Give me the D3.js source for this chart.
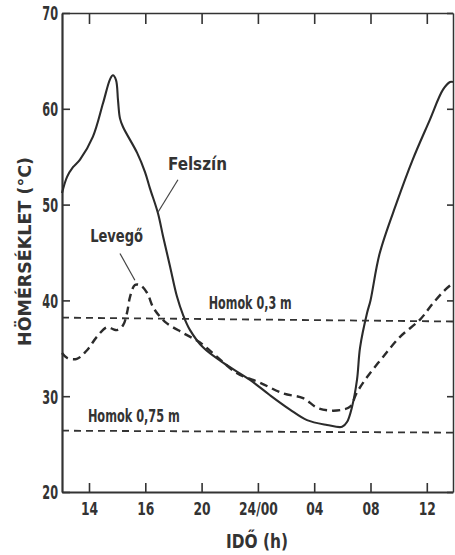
<!DOCTYPE html>
<html>
<head>
<meta charset="utf-8">
<script src="https://cdn.jsdelivr.net/npm/d3@7"></script>
<style>
	body { margin: 0; background: #fff; }
	svg text { font-family: "DejaVu Sans Condensed", "Liberation Sans Narrow", sans-serif; font-weight: bold; fill: #333; }
</style>
</head>
<body>
<svg id="chart" width="455" height="555"></svg>
<script>
// hours on the time axis (24/00 = 24, 04 = 28 ...)
var hourTicks = [14, 16, 20, 24, 28, 32, 36];
var hourLabels = ["14", "16", "20", "24/00", "04", "08", "12"];
var tempTicks = [20, 30, 40, 50, 60, 70];

// Felszín (surface): [hour, °C]
var felszin = [
	[13.04, 51.2], [13.22, 52.9], [13.43, 53.9], [13.68, 54.7], [14.14, 57.1], [14.5, 60.6],
	[14.75, 63.1], [14.85, 63.5], [14.96, 63.0], [15.03, 60.9], [15.1, 59.0], [15.21, 58.1],
	[15.71, 55.4], [15.99, 53.4], [16.33, 51.7], [16.9, 49.1], [17.26, 46.7], [17.75, 43.6],
	[18.25, 40.4], [18.68, 38.5], [19.18, 36.9], [20.1, 35.1], [21.52, 33.5], [23.44, 31.7],
	[24.86, 30.1], [26.28, 28.6], [27.49, 27.5], [28.91, 27.0], [29.98, 26.8], [30.33, 27.3],
	[30.69, 28.9], [31.04, 31.7], [31.26, 35.1], [31.76, 38.7], [32.0, 40.0], [32.65, 44.9],
	[33.86, 50.2], [35.0, 54.7], [36.2, 58.8], [37.15, 62.0], [37.65, 62.8], [37.86, 62.8]
];

// Levegő (air)
var levego = [
	[13.04, 34.5], [13.22, 34.0], [13.57, 33.9], [13.93, 34.8], [14.28, 36.2], [14.64, 37.2],
	[14.85, 37.0], [14.99, 36.9], [15.21, 37.4], [15.35, 38.7], [15.46, 40.4], [15.63, 41.6],
	[15.81, 41.6], [16.12, 40.8], [16.55, 39.3], [17.04, 38.3], [17.54, 37.6], [18.68, 36.6],
	[19.89, 35.6], [21.1, 34.1], [22.52, 32.4], [24.16, 31.4], [25.79, 30.3], [27.21, 29.8],
	[28.21, 28.8], [29.13, 28.5], [30.06, 28.6], [30.55, 28.9], [31.04, 30.4], [31.76, 32.0],
	[32.89, 34.1], [34.1, 36.2], [35.52, 38.0], [36.44, 39.7], [37.3, 41.1], [37.86, 41.8]
];

// sand at 0.3 m and 0.75 m depth
var homok03 = [[13.04, 38.2], [37.86, 37.8]];
var homok075 = [[13.04, 26.4], [37.86, 26.2]];

var labelTexts = ["Felszín", "Levegő", "Homok 0,3 m", "Homok 0,75 m"];

// where the labels sit ([hour, °C] of text start) and how wide they are drawn
var labelLayout = [
	{ at: [17.61, 53.6], w: 59 },
	{ at: [14.04, 46.1], w: 53 },
	{ at: [20.51, 39.1], w: 83 },
	{ at: [13.96, 27.3], w: 92 }
];
var leaders = [
	[[18.32, 52.6], [16.9, 49.2]],
	[[15.1, 44.9], [15.63, 42.1]]
];

var svg = d3.select("#chart"),
	margin = { top: 13, right: 2, bottom: 63, left: 62 },
	width = +svg.attr("width") - margin.left - margin.right,
	height = +svg.attr("height") - margin.top - margin.bottom;

var step = 56.3; // one tick interval (2 h before 16, 4 h after)
var xStart = 13.04, xEnd = 37.86;

var x = d3.scaleLinear()
	.domain([xStart, 14, 16, xEnd])
	.range([0, 27, 27 + step, 27 + step + (xEnd - 16) / 4 * step]);

var y = d3.scaleLinear()
	.domain([20, 70])
	.range([height, 0]);

// the lettering of the figure is very narrow, squeeze the glyphs
var squeeze = (sel, k) => sel.each(function () {
	var w = this.getComputedTextLength();
	d3.select(this).attr("textLength", w * k).attr("lengthAdjust", "spacingAndGlyphs");
});

var g = svg.append("g")
	.attr("transform", `translate(${margin.left},${margin.top})`);

var line = d3.line()
	.x(d => x(d[0]))
	.y(d => y(d[1]))
	.curve(d3.curveCatmullRom.alpha(0.5));

var styleAxis = (a, w) => a
	.call(a => a.select(".domain").attr("stroke", "#333").attr("stroke-width", w))
	.call(a => a.selectAll(".tick line").attr("stroke", "#333").attr("stroke-width", 1.6))
	.call(a => a.selectAll(".tick text")
		.attr("font-family", null)
		.attr("fill", null));

g.append("g")
	.call(d3.axisLeft(y).tickValues(tempTicks).tickSize(-8).tickSizeOuter(0).tickPadding(4))
	.call(a => styleAxis(a, 2.2))
	.call(a => a.selectAll(".tick text").attr("font-size", 19).attr("dy", "0.36em").call(squeeze, 0.66));

g.append("g")
	.attr("transform", `translate(${width},0)`)
	.call(d3.axisRight(y).tickValues(tempTicks).tickSize(-6).tickSizeOuter(0).tickFormat(""))
	.call(a => styleAxis(a, 1.5));

g.append("g")
	.call(d3.axisTop(x).tickValues(hourTicks).tickSize(-11).tickSizeOuter(0).tickFormat(""))
	.call(a => styleAxis(a, 1.5));

g.append("g")
	.attr("transform", `translate(0,${height})`)
	.call(d3.axisBottom(x).tickValues(hourTicks).tickSize(-9).tickSizeOuter(0).tickPadding(10)
		.tickFormat((d, i) => hourLabels[i]))
	.call(a => styleAxis(a, 1.8))
	.call(a => a.selectAll(".tick text").attr("font-size", 18).call(squeeze, 0.76));

// series
g.append("path")
	.datum(felszin)
	.attr("d", line)
	.attr("fill", "none")
	.attr("stroke", "#2b2b2b")
	.attr("stroke-width", 2.1);

g.append("path")
	.datum(levego)
	.attr("d", line)
	.attr("fill", "none")
	.attr("stroke", "#2b2b2b")
	.attr("stroke-width", 2.4)
	.attr("stroke-dasharray", "8,5");

g.selectAll(".homok")
	.data([homok03, homok075])
	.join("path")
	.attr("class", "homok")
	.attr("d", d3.line().x(d => x(d[0])).y(d => y(d[1])))
	.attr("fill", "none")
	.attr("stroke", "#333")
	.attr("stroke-width", 1.8)
	.attr("stroke-dasharray", "7,5");

g.selectAll(".leader")
	.data(leaders)
	.join("path")
	.attr("class", "leader")
	.attr("d", d3.line().x(d => x(d[0])).y(d => y(d[1])))
	.attr("stroke", "#444")
	.attr("stroke-width", 1.2);

g.selectAll(".label")
	.data(labelTexts)
	.join("text")
	.attr("class", "label")
	.attr("x", (d, i) => x(labelLayout[i].at[0]))
	.attr("y", (d, i) => y(labelLayout[i].at[1]))
	.attr("font-size", 17)
	.attr("textLength", (d, i) => labelLayout[i].w)
	.attr("lengthAdjust", "spacingAndGlyphs")
	.text(d => d);

// axis titles
svg.append("text")
	.attr("transform", `translate(31,${margin.top + height / 2 - 1}) rotate(-90)`)
	.attr("text-anchor", "middle")
	.attr("font-size", 18)
	.attr("textLength", 189)
	.attr("lengthAdjust", "spacingAndGlyphs")
	.text("HÖMÉRSÉKLET (°C)");

svg.append("text")
	.attr("x", 257)
	.attr("y", 548)
	.attr("text-anchor", "middle")
	.attr("font-size", 19)
	.attr("textLength", 62)
	.attr("lengthAdjust", "spacingAndGlyphs")
	.text("IDŐ (h)");
</script>
</body>
</html>
